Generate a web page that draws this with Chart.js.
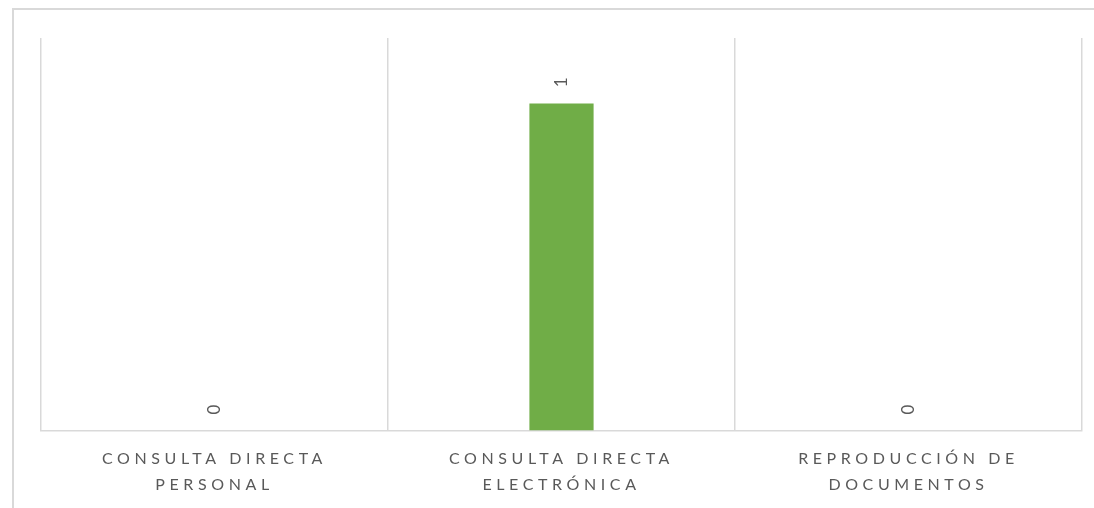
<!DOCTYPE html>
<html>
<head>
<meta charset="utf-8">
<script src="https://cdn.jsdelivr.net/npm/chart.js@4"></script>
<style>
  html, body { margin: 0; padding: 0; background: #ffffff; overflow: hidden; }
  body { width: 1094px; height: 508px; position: relative; }
  #frame { position: absolute; left: 12px; top: 8px; width: 1200px; height: 600px; border: 2px solid #d9d9d9; box-sizing: border-box; }
  #c { position: absolute; left: 0; top: 0; }
</style>
</head>
<body>
<div id="frame"></div>
<canvas id="c" width="1094" height="508"></canvas>
<script>
// ---- data ----
const categories = [
  ['CONSULTA DIRECTA', 'PERSONAL'],
  ['CONSULTA DIRECTA', 'ELECTRÓNICA'],
  ['REPRODUCCIÓN DE', 'DOCUMENTOS']
];
const values = [0, 1, 0];
const yMin = 0;
const yMax = 1.2;

// ---- styles ----
const textColor = '#595959';
const gridColor = '#d9d9d9';
const barColor = '#70ad47';
const fontFamily = 'Lato, "Open Sans", sans-serif';
const axisLetterSpacing = '4.6px';

const letterSpacingPlugin = {
  id: 'letterSpacing',
  afterInit(chart) { chart.ctx.letterSpacing = axisLetterSpacing; },
  beforeUpdate(chart) { chart.ctx.letterSpacing = axisLetterSpacing; },
  beforeDraw(chart) { chart.ctx.letterSpacing = axisLetterSpacing; }
};

const valueLabelPlugin = {
  id: 'valueLabels',
  afterDatasetsDraw(chart) {
    const ctx = chart.ctx;
    chart.data.datasets.forEach((ds, di) => {
      const meta = chart.getDatasetMeta(di);
      meta.data.forEach((bar, i) => {
        ctx.save();
        ctx.letterSpacing = '0px';
        ctx.font = '17px ' + fontFamily;
        ctx.fillStyle = textColor;
        ctx.translate(bar.x, bar.y - 21);
        ctx.rotate(-Math.PI / 2);
        ctx.textAlign = 'center';
        ctx.textBaseline = 'middle';
        ctx.fillText(String(ds.data[i]), 0, 0);
        ctx.restore();
      });
    });
  }
};

new Chart(document.getElementById('c'), {
  type: 'bar',
  data: {
    labels: categories,
    datasets: [{
      data: values,
      backgroundColor: barColor,
      borderWidth: 0,
      categoryPercentage: 1,
      barPercentage: 0.185
    }]
  },
  options: {
    responsive: false,
    devicePixelRatio: 1,
    animation: false,
    layout: { padding: { left: 41, right: 12, top: 38, bottom: -5 } },
    plugins: { legend: { display: false }, tooltip: { enabled: false } },
    scales: {
      x: {
        grid: { display: true, color: gridColor, lineWidth: 1.5, drawTicks: false, offset: true },
        border: { display: true, color: gridColor, width: 1.5 },
        ticks: {
          color: textColor,
          font: { family: fontFamily, size: 16, lineHeight: 1.64 },
          padding: 15,
          maxRotation: 0,
          minRotation: 0,
          autoSkip: false
        }
      },
      y: {
        display: false,
        min: yMin,
        max: yMax
      }
    }
  },
  plugins: [letterSpacingPlugin, valueLabelPlugin]
});
</script>
</body>
</html>
